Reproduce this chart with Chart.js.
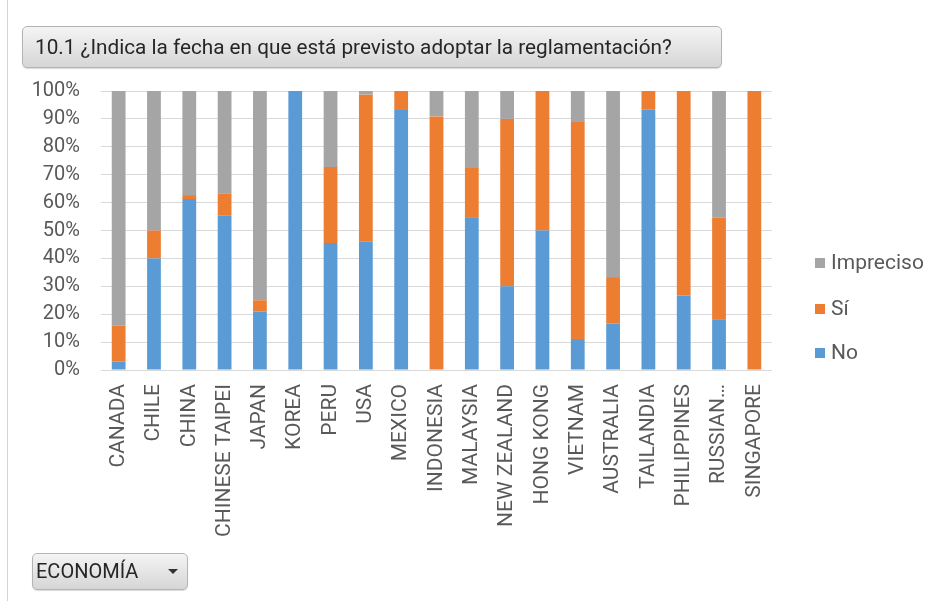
<!DOCTYPE html>
<html>
<head>
<meta charset="utf-8">
<script src="https://cdn.jsdelivr.net/npm/chart.js@4.4.1/dist/chart.umd.min.js"></script>
<style>
  html, body { margin: 0; padding: 0; background: #ffffff; }
  #wrap { position: relative; width: 942px; height: 601px; overflow: hidden; background: #fff; }
  #frame { position: absolute; left: 7px; top: 0; width: 1px; height: 601px; background: #d4d4d4; }
  #chart { position: absolute; left: 0; top: 0; width: 942px; height: 601px; }
  .btn {
    position: absolute; box-sizing: border-box;
    border: 1px solid #b4b4b4; border-radius: 5px;
    background: linear-gradient(#f4f4f4, #d6d6d6);
    box-shadow: 0 1px 1px rgba(0,0,0,0.15);
    color: #262626;
  }
  #title { left: 22px; top: 26px; width: 700px; height: 42px; font-family: Roboto, sans-serif; font-size: 18.5px; line-height: 40px; padding-left: 12px; white-space: nowrap; }
  #title span { display: inline-block; }
  #econ { left: 32px; top: 553px; width: 156px; height: 37px; font-family: Roboto, sans-serif; font-size: 20px; line-height: 35px; padding-left: 3px; }
  #econ .arrow { position: absolute; left: 135px; top: 15px; width: 0; height: 0; border-left: 5px solid transparent; border-right: 5px solid transparent; border-top: 5px solid #333; }
  #legend { position: absolute; left: 815px; top: 248px; font-family: Roboto, sans-serif; font-size: 21px; color: #595959; }
  #legend .item { position: absolute; left: 0; height: 28px; line-height: 28px; white-space: nowrap; }
  #legend .sw { display: inline-block; width: 10px; height: 10px; margin-right: 6px; vertical-align: 1px; }
</style>
</head>
<body>
<div id="wrap">
  <div id="frame"></div>
  <canvas id="chart" width="942" height="601"></canvas>
  <div id="title" class="btn"><span id="ttext">10.1 ¿Indica la fecha en que está previsto adoptar la reglamentación?</span></div>
  <div id="econ" class="btn">ECONOMÍA<span class="arrow"></span></div>
  <div id="legend"></div>
</div>
<script>
const categories = ["CANADA","CHILE","CHINA","CHINESE TAIPEI","JAPAN","KOREA","PERU","USA","MEXICO","INDONESIA","MALAYSIA","NEW ZEALAND","HONG KONG","VIETNAM","AUSTRALIA","TAILANDIA","PHILIPPINES","RUSSIAN…","SINGAPORE"];
const noValues        = [3, 40, 61.3, 55.5, 21, 100, 45.5, 46, 93.2, 0, 54.5, 30, 50, 11.1, 16.7, 93.5, 26.7, 18.2, 0];
const siValues        = [13, 10, 1.4, 7.7, 4, 0, 27.3, 52.7, 6.8, 90.9, 18.2, 60, 50, 77.8, 16.6, 6.5, 73.3, 36.4, 100];
const imprecisoValues = [84, 50, 37.3, 36.8, 75, 0, 27.2, 1.3, 0, 9.1, 27.3, 10, 0, 11.1, 66.7, 0, 0, 45.4, 0];
const seriesNames = ["No", "Sí", "Impreciso"];
const seriesColors = ["#5b9bd5", "#ed7d31", "#a5a5a5"];
const yTicks = [0,10,20,30,40,50,60,70,80,90,100];

const tickFont = { family: "Roboto, sans-serif", size: 21 };
const yTickFont = { family: "Roboto, sans-serif", size: 20 };

// fit the title text to the reference width
(function () {
  const t = document.getElementById('ttext');
  const w = t.getBoundingClientRect().width;
  const target = 637;
  const fs = 18.5 * target / w;
  document.getElementById('title').style.fontSize = fs.toFixed(2) + 'px';
})();

const chart = new Chart(document.getElementById('chart'), {
  type: 'bar',
  data: {
    labels: categories,
    datasets: [noValues, siValues, imprecisoValues].map((vals, i) => ({
      label: seriesNames[i],
      data: vals,
      backgroundColor: seriesColors[i],
      borderWidth: 0,
      categoryPercentage: 1,
      barPercentage: 0.39
    }))
  },
  options: {
    responsive: false,
    animation: false,
    layout: { padding: { left: 0, right: 170, top: 91, bottom: 0 } },
    plugins: { legend: { display: false }, tooltip: { enabled: false }, title: { display: false } },
    scales: {
      x: {
        stacked: true,
        grid: { display: false, drawTicks: false },
        border: { display: false },
        ticks: { color: '#595959', font: tickFont, minRotation: 90, maxRotation: 90, autoSkip: false, padding: 14 },
        afterFit: (s) => { s.height = 601 - 91 - 279; }
      },
      y: {
        stacked: true,
        min: 0, max: 100,
        afterBuildTicks: (s) => { s.ticks = yTicks.map(v => ({ value: v })); },
        grid: { color: '#d9d9d9', lineWidth: 1, drawTicks: false },
        border: { display: false },
        ticks: { color: '#595959', font: yTickFont, padding: 21, autoSkip: false, callback: (v) => v + '%' },
        afterFit: (s) => { s.width = 101; }
      }
    }
  }
});

// legend (reverse order like the reference)
const legend = document.getElementById('legend');
const legendTops = [90, 46, 0];
[2,1,0].forEach((i) => {
  const d = document.createElement('div');
  d.className = 'item';
  d.style.top = legendTops[i] + 'px';
  d.innerHTML = '<span class="sw" style="background:' + seriesColors[i] + '"></span>' + seriesNames[i];
  legend.appendChild(d);
});
</script>
</body>
</html>
